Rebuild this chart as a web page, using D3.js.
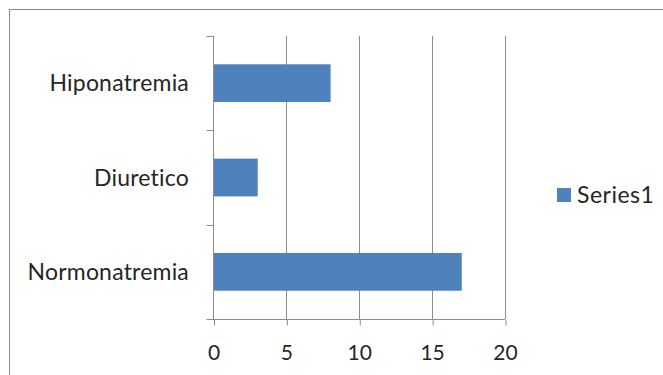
<!DOCTYPE html>
<html>
<head>
<meta charset="utf-8">
<script src="https://cdn.jsdelivr.net/npm/d3@7"></script>
<style>
  html, body { margin: 0; padding: 0; background: #fff; }
  svg { display: block; }
  text { font-family: Lato, "Open Sans", sans-serif; fill: #262626; }
</style>
</head>
<body>
<svg id="chart" width="663" height="375"></svg>
<script>
// Data
const categories = ["Normonatremia", "Diuretico", "Hiponatremia"];
const values = [17, 3, 8];
const seriesName = "Series1";
const xTicks = [0, 5, 10, 15, 20];

const svg = d3.select("#chart");
const W = 663, H = 375;
const barColor = "#4F81BD";
const gridColor = "#8c8c8c";

// Chart frame
svg.append("rect")
  .attr("x", 9.5).attr("y", 9.5)
  .attr("width", W + 20).attr("height", H + 20)
  .attr("fill", "none").attr("stroke", "#8a8a8a").attr("stroke-width", 1);

const plot = { left: 213.5, right: 505, top: 36, bottom: 319 };

const x = d3.scaleLinear().domain([0, 20]).range([plot.left, plot.right]);
// Top-to-bottom order: last category at top
const y = d3.scaleBand()
  .domain(categories.slice().reverse())
  .range([plot.top, plot.bottom])
  .paddingInner(0.6).paddingOuter(0.3);

// Vertical gridlines
svg.append("g").selectAll("line")
  .data(xTicks.filter(d => d > 0))
  .join("line")
  .attr("x1", d => Math.round(x(d)) + 0.5).attr("x2", d => Math.round(x(d)) + 0.5)
  .attr("y1", plot.top).attr("y2", plot.bottom)
  .attr("stroke", gridColor).attr("stroke-width", 1);

// Bottom axis
const xAxis = d3.axisBottom(x).tickValues(xTicks).tickSize(6).tickFormat(d3.format("d"));
const gx = svg.append("g").attr("transform", `translate(0,${plot.bottom + 0.5})`).call(xAxis);
gx.select(".domain").remove();
gx.append("line")
  .attr("x1", plot.left - 7).attr("x2", plot.right)
  .attr("y1", 0).attr("y2", 0)
  .attr("stroke", gridColor);
gx.selectAll(".tick line").attr("stroke", gridColor)
  .attr("transform", "translate(0.5,0)")
  .attr("y1", 0);
gx.selectAll(".tick text")
  .attr("y", 32.5).attr("dy", "0.36em")
  .style("font-size", "21px").attr("fill", "#262626")
  .style("font-family", "Lato, sans-serif");

// Left axis line with category boundary ticks
const bounds = [plot.top, ...y.domain().map(c => y(c) - y.step() * y.paddingInner() / 2 + y.step())];
bounds[bounds.length - 1] = plot.bottom;
const yAxisG = svg.append("g");
yAxisG.append("line")
  .attr("x1", plot.left).attr("x2", plot.left)
  .attr("y1", plot.top).attr("y2", plot.bottom)
  .attr("stroke", gridColor);
yAxisG.selectAll("line.tk")
  .data(bounds.slice(0, -1))
  .join("line").attr("class", "tk")
  .attr("x1", plot.left - 7).attr("x2", plot.left)
  .attr("y1", d => Math.round(d) + 0.5).attr("y2", d => Math.round(d) + 0.5)
  .attr("stroke", gridColor);

// Bars
svg.append("g").selectAll("rect")
  .data(categories.map((c, i) => ({ c, v: values[i] })))
  .join("rect")
  .attr("x", x(0) + 0.5)
  .attr("y", d => y(d.c))
  .attr("width", d => x(d.v) - x(0))
  .attr("height", y.bandwidth())
  .attr("fill", barColor);

// Category labels
svg.append("g").selectAll("text")
  .data(categories)
  .join("text")
  .attr("x", 189)
  .attr("y", d => y(d) + y.bandwidth() / 2)
  .attr("dy", "0.36em")
  .attr("text-anchor", "end")
  .style("font-size", "23px")
  .style("letter-spacing", "0.2px")
  .text(d => d);

// Legend
const lg = svg.append("g");
lg.append("rect").attr("x", 557).attr("y", 188).attr("width", 14).attr("height", 14).attr("fill", barColor);
lg.append("text").attr("x", 577).attr("y", 195).attr("dy", "0.36em")
  .style("font-size", "23px").style("letter-spacing", "0.5px").text(seriesName);
</script>
</body>
</html>
